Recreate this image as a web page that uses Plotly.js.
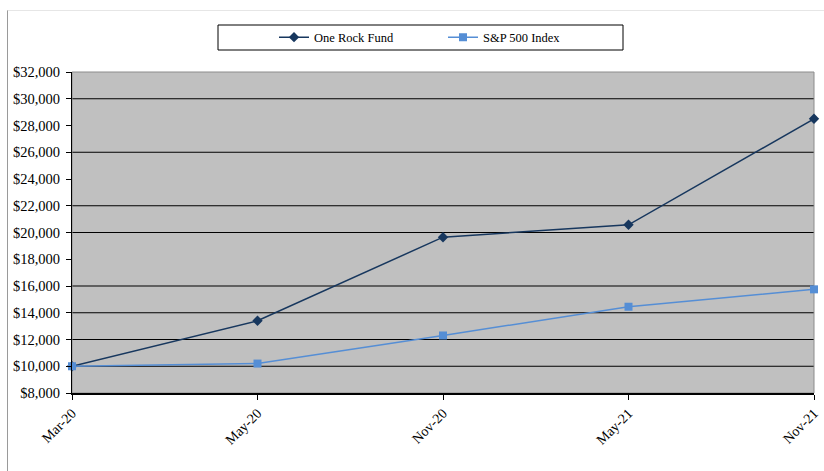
<!DOCTYPE html>
<html>
<head>
<meta charset="utf-8">
<script src="https://cdn.plot.ly/plotly-3.0.1.min.js"></script>
<style>
  html, body { margin: 0; padding: 0; background: #ffffff; }
  #wrap { position: relative; width: 824px; height: 471px; }
  #frame { position: absolute; left: 7px; top: 10px; width: 830px; height: 470px;
           border-left: 1px solid #9a9a9a; border-top: 1px solid #e6e6e6; }
  #chart { position: absolute; left: 0; top: 0; width: 824px; height: 471px; }
</style>
</head>
<body>
<div id="wrap">
  <div id="frame"></div>
  <div id="chart"></div>
</div>
<script>
// ---- data ----
const periods = ["Mar-20", "May-20", "Nov-20", "May-21", "Nov-21"];
const oneRockFund = [10000, 13400, 19650, 20575, 28500];
const sp500Index = [10000, 10200, 12300, 14450, 15750];
const yTicks = [8000, 10000, 12000, 14000, 16000, 18000, 20000, 22000, 24000, 26000, 28000, 30000, 32000];
const yTickLabels = yTicks.map(v => "$" + v.toLocaleString("en-US"));
const gridVals = [10000, 12000, 14000, 16000, 20000, 22000, 26000, 30000];

const serif = "Liberation Serif, Times New Roman, serif";

const traces = [
  {
    x: periods, y: oneRockFund, name: "One Rock Fund", type: "scatter", mode: "lines+markers",
    line: { color: "#17375E", width: 1.5 },
    marker: { symbol: "diamond", size: 8, color: "#17375E" },
    cliponaxis: false
  },
  {
    x: periods, y: sp500Index, name: "S&P 500 Index", type: "scatter", mode: "lines+markers",
    line: { color: "#558ED5", width: 1.5 },
    marker: { symbol: "square", size: 8, color: "#558ED5" },
    cliponaxis: false
  }
];

const shapes = gridVals.map(v => ({
  type: "line", xref: "paper", yref: "y", x0: 0, x1: 1, y0: v, y1: v,
  line: { color: "#000000", width: 1 }, layer: "below"
}));
// plot area border (top/right gray)
shapes.push({ type: "rect", xref: "paper", yref: "paper", x0: 0, x1: 1, y0: 0, y1: 1,
  line: { color: "#8c8c8c", width: 1 }, fillcolor: "rgba(0,0,0,0)", layer: "below" });
// legend box
shapes.push({ type: "rect", xref: "paper", yref: "paper",
  x0: (218 - 72) / 742, x1: (623 - 72) / 742, y0: (393 - 50) / 321, y1: (393 - 25) / 321,
  line: { color: "#000000", width: 1 }, fillcolor: "#ffffff", layer: "above" });

const layout = {
  width: 824, height: 471,
  margin: { l: 72, r: 10, t: 72, b: 78 },
  paper_bgcolor: "rgba(0,0,0,0)",
  plot_bgcolor: "#c0c0c0",
  showlegend: true,
  legend: {
    orientation: "h", x: (274 - 72) / 742, xanchor: "left", y: (393 - 37.5) / 321, yanchor: "middle",
    bgcolor: "rgba(0,0,0,0)", borderwidth: 0,
    font: { family: serif, size: 12.5, color: "#000000" },
    entrywidth: 124, entrywidthmode: "pixels", traceorder: "normal"
  },
  xaxis: {
    type: "category", range: [0, 4],
    showgrid: false, zeroline: false,
    showline: true, linecolor: "#000000", linewidth: 1.5,
    ticks: "outside", ticklen: 5, tickcolor: "#000000",
    tickangle: -45,
    tickfont: { family: serif, size: 14, color: "#000000" }
  },
  yaxis: {
    range: [8000, 32000], tickvals: yTicks, ticktext: yTickLabels,
    showgrid: false, zeroline: false,
    showline: true, linecolor: "#000000", linewidth: 1,
    ticks: "outside", ticklen: 5, tickcolor: "#000000",
    ticklabelstandoff: 3,
    tickfont: { family: serif, size: 14.5, color: "#000000" }
  },
  shapes: shapes
};

Plotly.newPlot("chart", traces, layout, { displayModeBar: false, staticPlot: true });
</script>
</body>
</html>
